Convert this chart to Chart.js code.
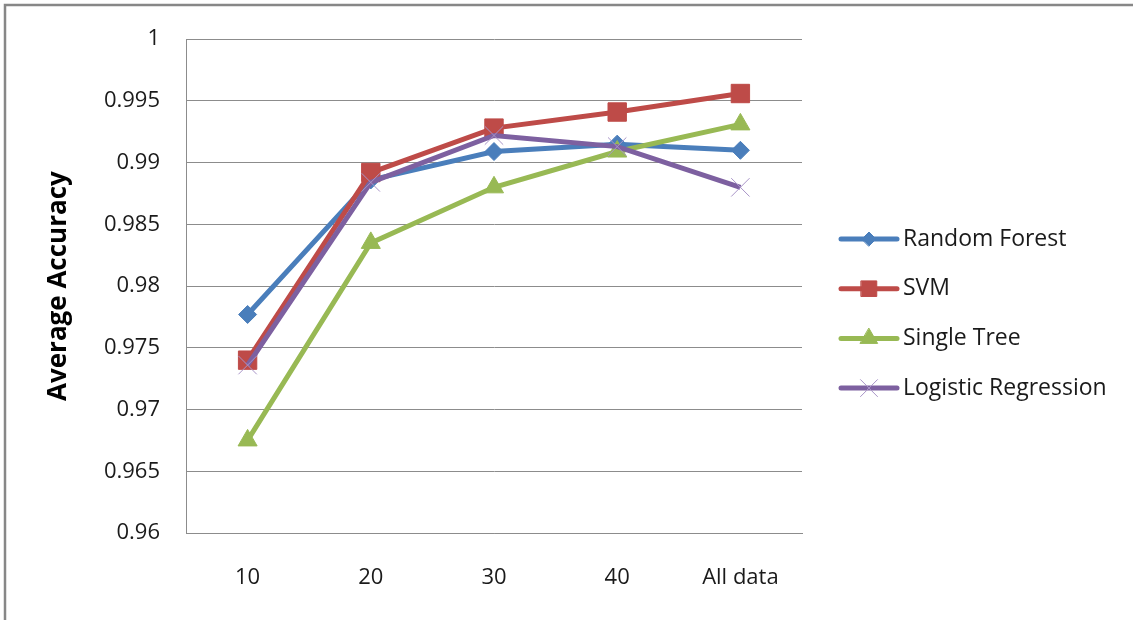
<!DOCTYPE html>
<html>
<head>
<meta charset="utf-8">
<title>Average Accuracy</title>
<script src="https://cdn.jsdelivr.net/npm/chart.js@4.4.1/dist/chart.umd.min.js"></script>
<style>
  html, body { margin: 0; padding: 0; background: #ffffff; }
  #wrap { width: 1133px; height: 620px; position: relative; }
</style>
</head>
<body>
<div id="wrap"><canvas id="chart" width="1133" height="620"></canvas></div>
<script>
// Training set size categories
const categories = ['10', '20', '30', '40', 'All data'];

// Average accuracy per classifier
const randomForest = [0.9777, 0.9886, 0.9909, 0.9915, 0.9910];
const svm          = [0.9740, 0.9892, 0.9928, 0.9941, 0.9956];
const singleTree   = [0.9675, 0.9835, 0.9880, 0.9909, 0.9931];
const logistic     = [0.9736, 0.9884, 0.9922, 0.9913, 0.9880];

const seriesNames = ['Random Forest', 'SVM', 'Single Tree', 'Logistic Regression'];

// Y axis range and step
const yMin = 0.96;
const yMax = 1.0;
const yStep = 0.005;

const FONT = '"Open Sans", "DejaVu Sans", sans-serif';

function series(label, data, color, pointStyle, radius, pointColor, order) {
  return {
    label: label,
    data: data,
    borderColor: color,
    backgroundColor: pointColor,
    borderWidth: 5,
    pointStyle: pointStyle,
    pointRadius: radius,
    pointHoverRadius: radius,
    pointBackgroundColor: pointColor,
    pointBorderColor: pointColor,
    pointBorderWidth: 1,
    tension: 0,
    fill: false,
    order: order
  };
}

const datasets = [
  series(seriesNames[0], randomForest, '#4A7EBB', 'rectRot', 9, '#4A7EBB', 4),
  series(seriesNames[1], svm, '#BE4B48', 'rect', 13, '#BE4B48', 3),
  series(seriesNames[2], singleTree, '#98B954', 'triangle', 11, '#98B954', 2),
  series(seriesNames[3], logistic, '#7D60A0', 'crossRot', 13, '#A995C8', 1)
];

// Outer frame around the chart
const framePlugin = {
  id: 'frame',
  beforeDraw(chart) {
    const ctx = chart.ctx;
    ctx.save();
    ctx.fillStyle = '#ffffff';
    ctx.fillRect(0, 0, chart.width, chart.height);
    ctx.strokeStyle = '#878787';
    ctx.lineWidth = 2.5;
    ctx.strokeRect(5, 5, chart.width + 20, chart.height + 20);
    ctx.restore();
  }
};

// Legend on the right: line sample with the series marker, then the name
const lineLegendPlugin = {
  id: 'lineLegend',
  afterDraw(chart) {
    const ctx = chart.ctx;
    const x0 = 841, x1 = 897, textX = 903;
    const top = 239, gap = 49.7;
    ctx.save();
    chart.data.datasets.forEach((ds, i) => {
      const y = top + i * gap;
      ctx.beginPath();
      ctx.strokeStyle = ds.borderColor;
      ctx.lineWidth = 5;
      ctx.lineCap = 'round';
      ctx.moveTo(x0, y);
      ctx.lineTo(x1, y);
      ctx.stroke();
      ctx.fillStyle = ds.pointBackgroundColor;
      ctx.strokeStyle = ds.pointBorderColor;
      ctx.lineWidth = 1;
      const r = ds.pointStyle === 'rectRot' ? 7 : (ds.pointStyle === 'rect' ? 11 : (ds.pointStyle === 'triangle' ? 10 : 12));
      Chart.helpers.drawPoint(ctx, { pointStyle: ds.pointStyle, radius: r, borderWidth: 1 }, (x0 + x1) / 2, y);
      ctx.fillStyle = '#1a1a1a';
      ctx.font = '23px ' + FONT;
      ctx.textBaseline = 'middle';
      ctx.textAlign = 'left';
      ctx.fillText(ds.label, textX, y);
    });
    ctx.restore();
  }
};

new Chart(document.getElementById('chart'), {
  type: 'line',
  data: { labels: categories, datasets: datasets },
  options: {
    responsive: false,
    animation: false,
    devicePixelRatio: 1,
    layout: { padding: { left: 0, top: 37, right: 331, bottom: 0 } },
    plugins: {
      legend: { display: false },
      tooltip: { enabled: false }
    },
    scales: {
      x: {
        offset: true,
        grid: { display: false, drawTicks: false },
        border: { display: true, color: '#8c8c8c', width: 1 },
        ticks: {
          color: '#1a1a1a',
          font: { family: FONT, size: 22 },
          padding: 32,
          maxRotation: 0
        },
        afterFit(axis) { axis.height = 620 - 533; }
      },
      y: {
        min: yMin,
        max: yMax,
        grid: { color: '#8c8c8c', lineWidth: 1, drawTicks: false },
        border: { display: true, color: '#8c8c8c', width: 1 },
        ticks: {
          stepSize: yStep,
          color: '#1a1a1a',
          font: { family: FONT, size: 22 },
          padding: 26,
          callback: (v) => String(Number(v.toFixed(3)))
        },
        title: {
          display: true,
          text: 'Average Accuracy',
          color: '#000000',
          font: { family: FONT, size: 26, weight: 'bold' },
          padding: { top: 43, bottom: 0 }
        },
        afterFit(axis) { axis.width = 186; }
      }
    }
  },
  plugins: [framePlugin, lineLegendPlugin]
});
</script>
</body>
</html>
